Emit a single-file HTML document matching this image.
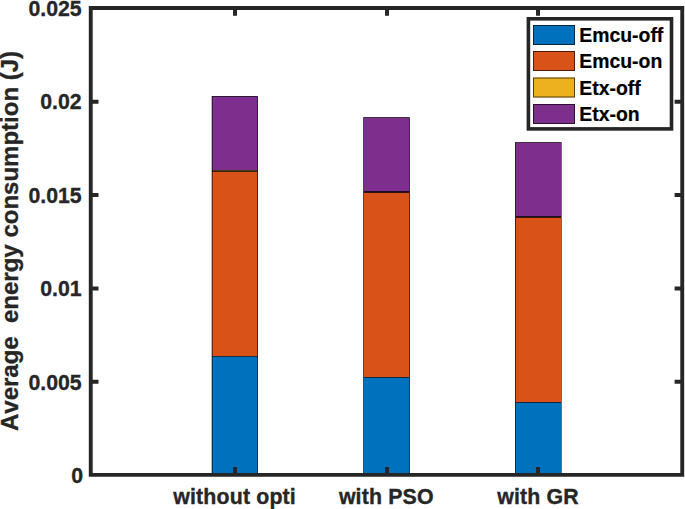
<!DOCTYPE html>
<html>
<head>
<meta charset="utf-8">
<style>
html,body{margin:0;padding:0;background:#fff;}
body{width:685px;height:509px;overflow:hidden;}
svg{display:block;}
text{font-family:"Liberation Sans",sans-serif;font-weight:bold;font-kerning:none;}
</style>
</head>
<body>
<svg width="685" height="509" viewBox="0 0 685 509" xmlns="http://www.w3.org/2000/svg">
<rect x="0" y="0" width="685" height="509" fill="#fff"/>
<g>
<rect x="212" y="96.2" width="45.5" height="73.8" fill="#7E2F8E"/>
<rect x="212" y="172" width="45.5" height="184" fill="#D95319"/>
<rect x="212" y="357" width="45.5" height="117" fill="#0072BD"/>
<rect x="212" y="170" width="45.5" height="1" fill="#4a3a12"/>
<rect x="212" y="171" width="45.5" height="1" fill="#3a2510"/>
<rect x="212" y="356" width="45.5" height="1" fill="#15304a"/>
<rect x="211.7" y="96" width="46.1" height="0.75" fill="#000" fill-opacity="0.95"/>
<rect x="211.7" y="96.75" width="0.8" height="377.25" fill="#000" fill-opacity="0.95"/>
<rect x="257" y="96.75" width="0.8" height="377.25" fill="#000" fill-opacity="0.95"/>
<rect x="363.95" y="117.5" width="45.25" height="73.5" fill="#7E2F8E"/>
<rect x="363.95" y="193" width="45.25" height="184" fill="#D95319"/>
<rect x="363.95" y="378" width="45.25" height="96" fill="#0072BD"/>
<rect x="363.95" y="191" width="45.25" height="1" fill="#1e0f22"/>
<rect x="363.95" y="192" width="45.25" height="1" fill="#2a1510"/>
<rect x="363.95" y="377" width="45.25" height="1" fill="#0f2a45"/>
<rect x="363.2" y="117" width="46.6" height="0.7" fill="#000" fill-opacity="0.95"/>
<rect x="363.2" y="117.7" width="0.75" height="356.3" fill="#000" fill-opacity="0.95"/>
<rect x="409" y="117.7" width="0.8" height="356.3" fill="#000" fill-opacity="0.95"/>
<rect x="515.5" y="142.5" width="45.5" height="73.5" fill="#7E2F8E"/>
<rect x="515.5" y="218" width="45.5" height="184" fill="#D95319"/>
<rect x="515.5" y="403" width="45.5" height="71" fill="#0072BD"/>
<rect x="515.5" y="216" width="45.5" height="1" fill="#1e0f22"/>
<rect x="515.5" y="217" width="45.5" height="1" fill="#3a1a0c"/>
<rect x="515.5" y="402" width="45.5" height="1" fill="#0c2845"/>
<rect x="515" y="142" width="46.6" height="0.7" fill="#000" fill-opacity="0.95"/>
<rect x="515" y="142.7" width="0.8" height="331.3" fill="#000" fill-opacity="0.95"/>
<rect x="561" y="142.7" width="0.6" height="331.3" fill="#000" fill-opacity="0.95"/>
</g>
<path d="M88.8 6H684.2V476.8H88.8ZM92.7 10V472.9H680.3V10ZM233 467H237V472.9H233ZM233 10H237V15.8H233ZM385 467H389V472.9H385ZM385 10H389V15.8H385ZM536 467H540V472.9H536ZM536 10H540V15.8H536ZM92.7 99.7H98.5V103.7H92.7ZM674.6 99.7H680.3V103.7H674.6ZM92.7 193.1H98.5V197.1H92.7ZM674.6 193.1H680.3V197.1H674.6ZM92.7 286.4H98.5V290.4H92.7ZM674.6 286.4H680.3V290.4H674.6ZM92.7 379.8H98.5V383.8H92.7ZM674.6 379.8H680.3V383.8H674.6Z" fill="#262626" fill-rule="nonzero"/>
<g fill="#262626" stroke="#262626" stroke-width="0.3" font-size="21.5" text-anchor="end">
<text transform="translate(81.7,15.90) scale(0.99,1.065)">0.025</text>
<text transform="translate(81.7,109.30) scale(0.99,1.065)">0.02</text>
<text transform="translate(81.7,202.70) scale(0.99,1.065)">0.015</text>
<text transform="translate(81.7,296.20) scale(0.99,1.065)">0.01</text>
<text transform="translate(81.7,389.60) scale(0.99,1.065)">0.005</text>
<text transform="translate(83.1,482.90) scale(0.99,1.065)">0</text>
</g>
<g fill="#262626" stroke="#262626" stroke-width="0.35" font-size="21.33" text-anchor="middle" letter-spacing="0.15">
<text x="234.6" y="504.4">without opti</text>
<text x="386.3" y="504.4">with PSO</text>
<text x="538.0" y="504.4">with GR</text>
</g>
<text fill="#262626" stroke="#262626" stroke-width="0.3" font-size="24" text-anchor="middle" transform="translate(18.1,241.0) rotate(-90)" xml:space="preserve">Average  energy consumption (J)</text>
<rect x="528.4" y="18.8" width="143.1" height="110.1" fill="#fff" stroke="#262626" stroke-width="3.6"/>
<rect x="533" y="25" width="42" height="20" fill="#0072BD"/>
<rect x="533.5" y="25.5" width="41" height="19" fill="none" stroke="#000" stroke-opacity="0.65" stroke-width="1"/>
<rect x="533" y="51" width="42" height="20" fill="#D95319"/>
<rect x="533.5" y="51.5" width="41" height="19" fill="none" stroke="#000" stroke-opacity="0.65" stroke-width="1"/>
<rect x="533" y="77.5" width="42" height="20" fill="#EDB120"/>
<rect x="533.5" y="78" width="41" height="19" fill="none" stroke="#000" stroke-opacity="0.65" stroke-width="1"/>
<rect x="533" y="104" width="42" height="20" fill="#7E2F8E"/>
<rect x="533.5" y="104.5" width="41" height="19" fill="none" stroke="#000" stroke-opacity="0.65" stroke-width="1"/>
<g fill="#000" stroke="#000" stroke-width="0.2" font-size="19.4">
<text x="579.3" y="42.0">Emcu-off</text>
<text x="579.3" y="68.3">Emcu-on</text>
<text x="579.3" y="94.7">Etx-off</text>
<text x="579.3" y="121.2">Etx-on</text>
</g>
</svg>
</body>
</html>
